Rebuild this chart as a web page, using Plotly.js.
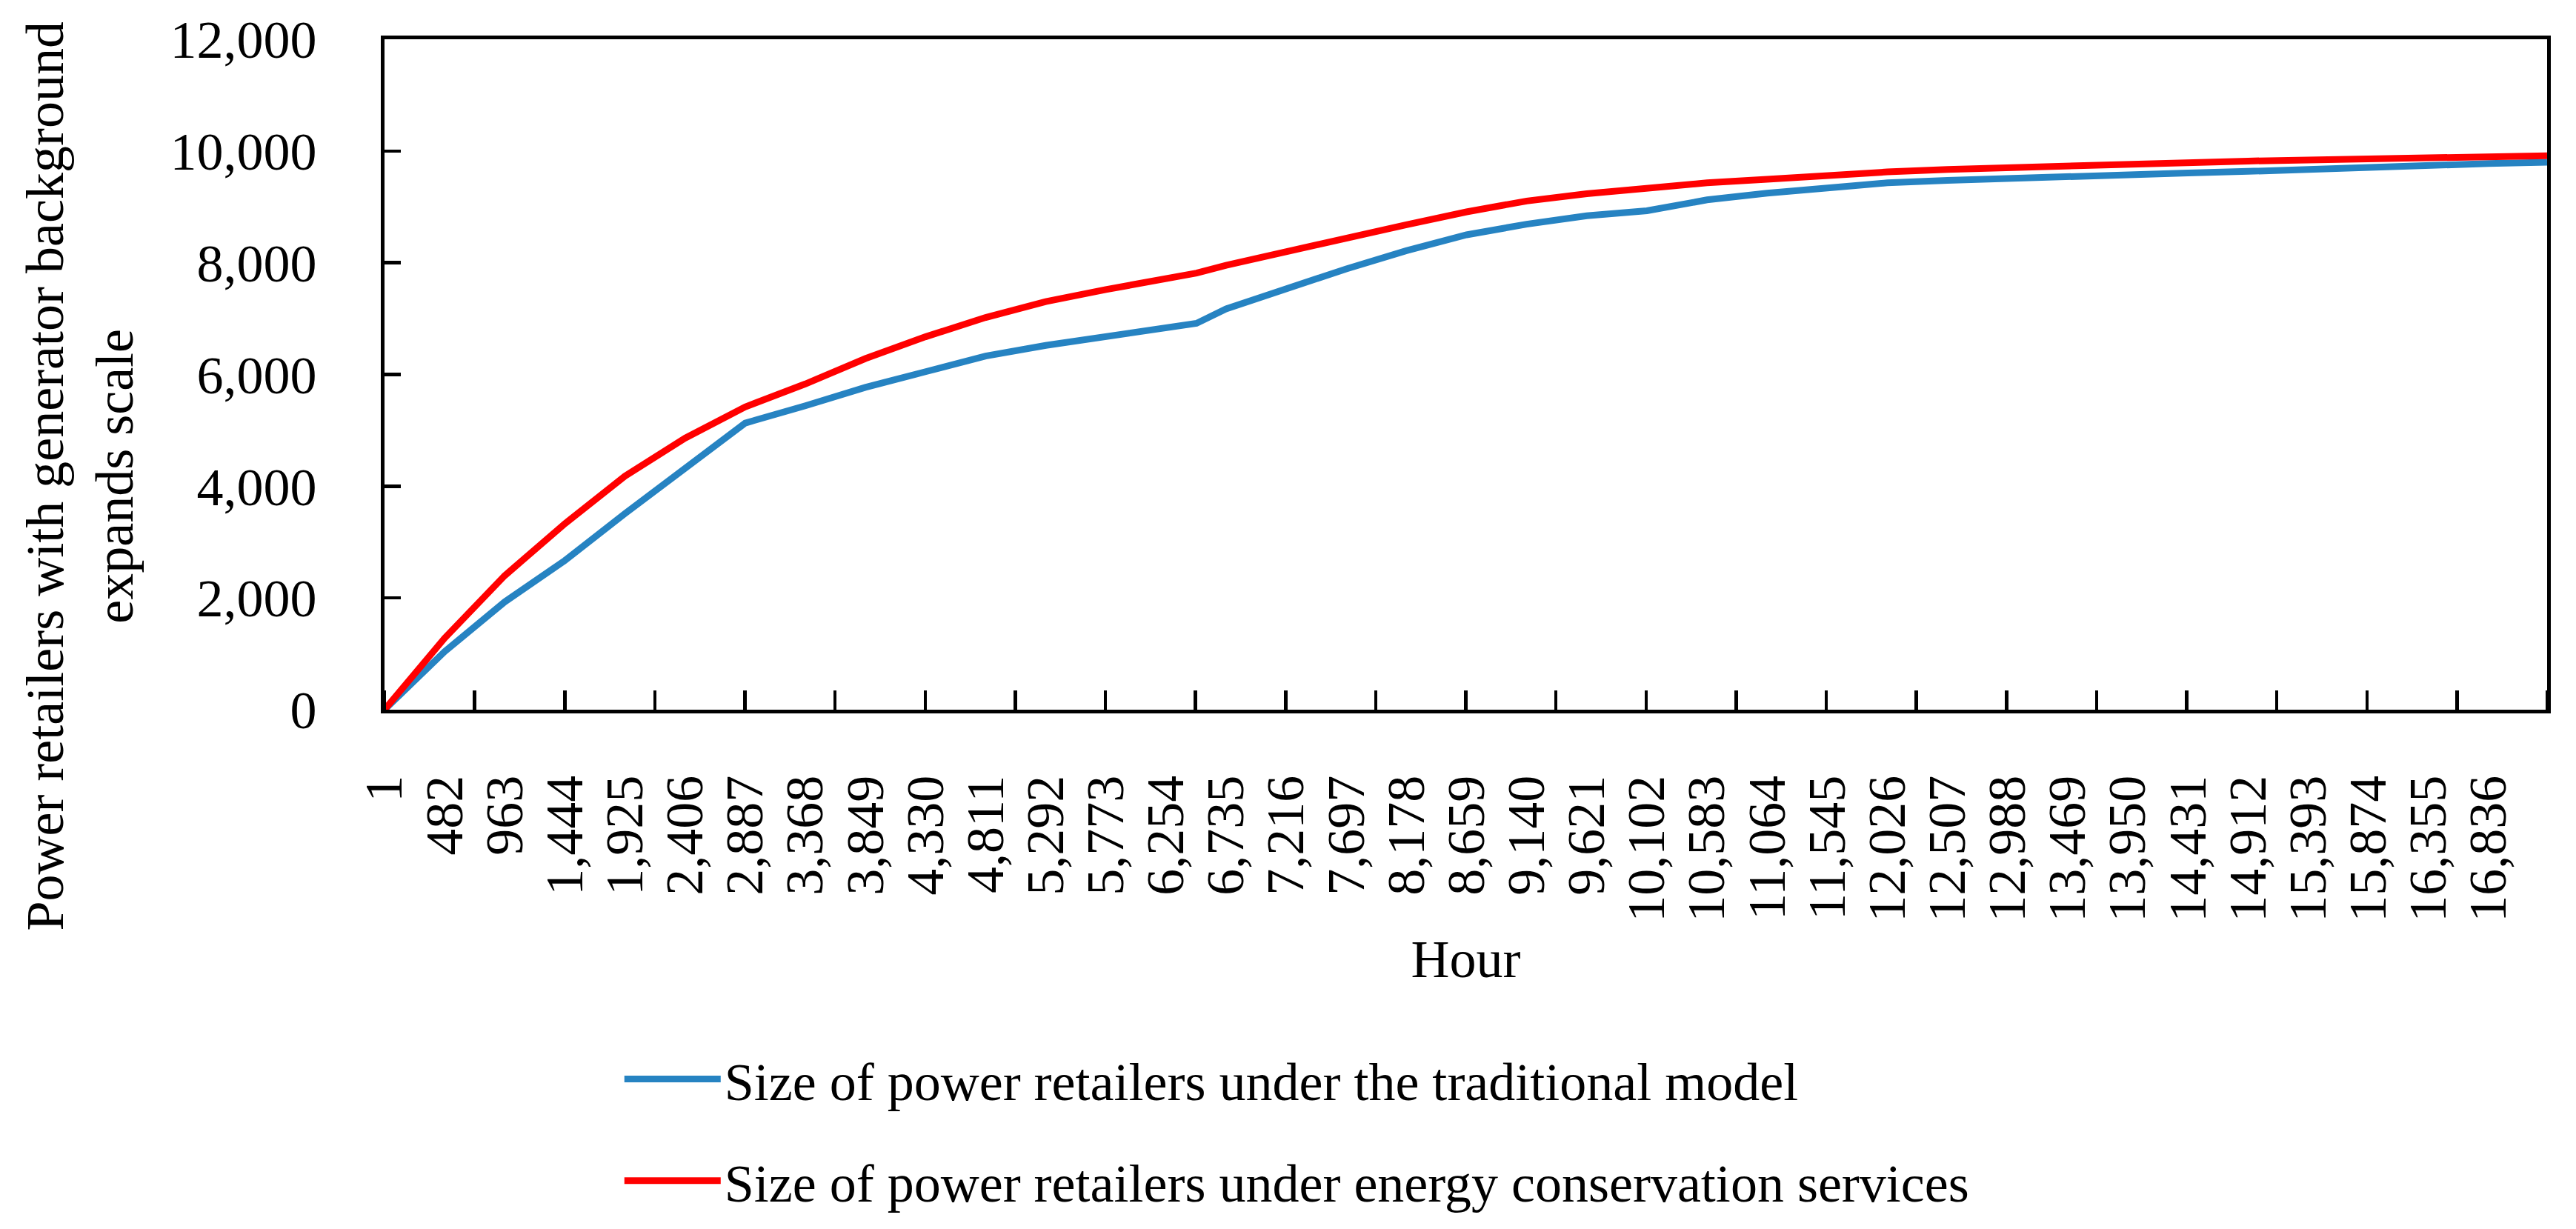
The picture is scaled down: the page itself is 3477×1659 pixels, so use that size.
<!DOCTYPE html>
<html>
<head>
<meta charset="utf-8">
<script src="https://cdn.plot.ly/plotly-3.0.1.min.js"></script>
<style>
  html, body { margin: 0; padding: 0; background: #fff; }
  #chart { width: 3477px; height: 1659px; }
</style>
</head>
<body>
<div id="chart"></div>
<script>
const hours = [1, 482, 963, 1444, 1925, 2406, 2887, 3368, 3849, 4330, 4811, 5292, 5773, 6254, 6498, 6735, 7216, 7697, 8178, 8659, 9140, 9621, 10102, 10583, 11064, 11545, 12026, 12507, 12988, 13469, 13950, 14431, 14912, 15393, 15874, 16355, 16836, 17305];

// Size of power retailers under the traditional model
const traditional = [0, 1040, 1930, 2670, 3510, 4310, 5130, 5440, 5770, 6050, 6330, 6520, 6680, 6830, 6915, 7175, 7545, 7890, 8215, 8500, 8690, 8840, 8930, 9125, 9245, 9350, 9430, 9475, 9500, 9530, 9570, 9605, 9635, 9675, 9720, 9755, 9775, 9800];

// Size of power retailers under energy conservation services
const conservation = [0, 1280, 2400, 3330, 4180, 4860, 5420, 5830, 6285, 6675, 7020, 7305, 7520, 7715, 7815, 7955, 8205, 8440, 8680, 8910, 9105, 9235, 9345, 9430, 9495, 9565, 9625, 9670, 9705, 9735, 9765, 9800, 9820, 9840, 9865, 9885, 9905, 9915];

// X tick labels (hours)
const hourTicks = [1, 482, 963, 1444, 1925, 2406, 2887, 3368, 3849, 4330, 4811, 5292, 5773, 6254, 6735, 7216, 7697, 8178, 8659, 9140, 9621, 10102, 10583, 11064, 11545, 12026, 12507, 12988, 13469, 13950, 14431, 14912, 15393, 15874, 16355, 16836];
const hourTickText = hourTicks.map(v => v.toLocaleString('en-US'));

const seriesNames = [
  'Size of power retailers under the traditional model',
  'Size of power retailers under energy conservation services'
];
const yTitle = 'Power retailers with generator background<br>expands scale';
const xTitle = 'Hour';

const FONT = 'Liberation Serif, Times New Roman, serif';
const FS = 72;

const traces = [
  {
    x: hours, y: traditional, type: 'scatter', mode: 'lines',
    name: seriesNames[0],
    line: { color: '#2683C2', width: 9 },
    legend: 'legend'
  },
  {
    x: hours, y: conservation, type: 'scatter', mode: 'lines',
    name: seriesNames[1],
    line: { color: '#FF0000', width: 9 },
    legend: 'legend2'
  }
];

const layout = {
  width: 3477, height: 1659,
  margin: { l: 519, r: 39, t: 53, b: 682 },
  paper_bgcolor: '#ffffff',
  plot_bgcolor: '#ffffff',
  font: { family: FONT, size: FS, color: '#000' },
  showlegend: true,
  xaxis: {
    type: 'linear',
    range: [1, 17305],
    showgrid: false, zeroline: false,
    showline: true, linecolor: '#000', linewidth: 5, mirror: true,
    tickmode: 'array', tickvals: hourTicks, ticktext: hourTickText,
    ticks: '', tickangle: -90,
    ticklabelstandoff: 55,
    tickfont: { family: FONT, size: FS, color: '#000' },
    minor: { ticks: 'inside', ticklen: 26, tickwidth: 4.5, tickcolor: '#000', tick0: 1, dtick: 721, showgrid: false },
    title: { text: xTitle, font: { family: FONT, size: FS, color: '#000' }, standoff: 26 }
  },
  yaxis: {
    range: [0, 12000],
    dtick: 2000, tick0: 0,
    tickformat: ',d',
    showgrid: false, zeroline: false,
    showline: true, linecolor: '#000', linewidth: 5, mirror: true,
    ticks: 'inside', ticklen: 22, tickwidth: 4.5, tickcolor: '#000',
    ticklabelstandoff: 72,
    tickfont: { family: FONT, size: FS, color: '#000' }
  },
  annotations: [
    {
      text: yTitle, textangle: -90, showarrow: false,
      xref: 'paper', yref: 'paper', x: -0.1408, y: 0.3485,
      xanchor: 'center', yanchor: 'middle',
      font: { family: FONT, size: FS, color: '#000' }
    }
  ],
  legend: {
    x: 0.1092, y: -0.551, xanchor: 'left', yanchor: 'middle',
    bgcolor: 'rgba(0,0,0,0)', borderwidth: 0,
    font: { family: FONT, size: FS, color: '#000' },
    itemwidth: 130
  },
  legend2: {
    x: 0.1092, y: -0.7026, xanchor: 'left', yanchor: 'middle',
    bgcolor: 'rgba(0,0,0,0)', borderwidth: 0,
    font: { family: FONT, size: FS, color: '#000' },
    itemwidth: 130
  }
};

Plotly.newPlot('chart', traces, layout, { displayModeBar: false, staticPlot: true });
</script>
</body>
</html>
